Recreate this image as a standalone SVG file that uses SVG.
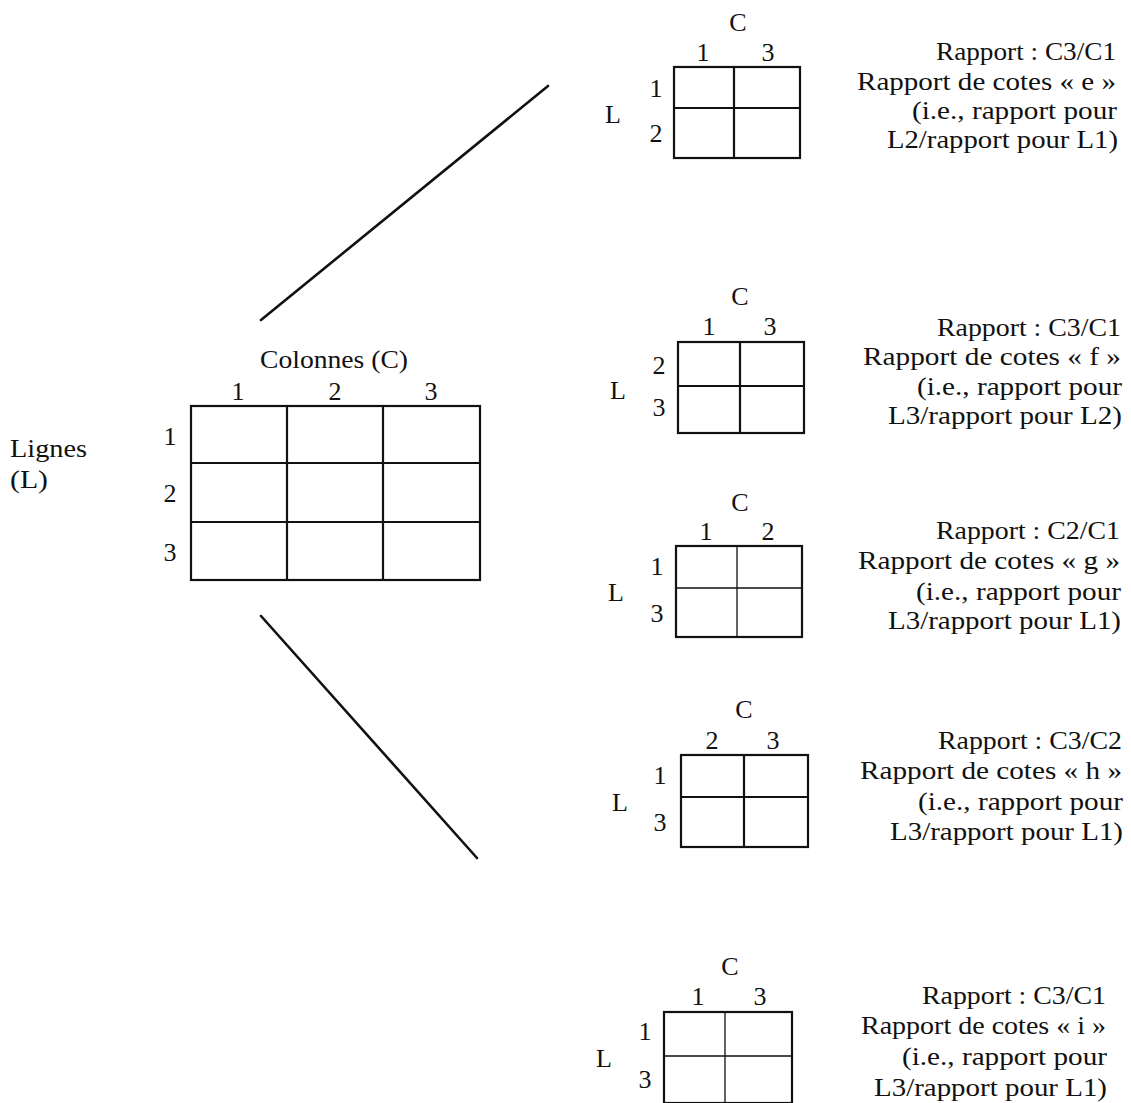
<svg xmlns="http://www.w3.org/2000/svg" width="1131" height="1103" viewBox="0 0 1131 1103">
  <style>
    text { font-family: "Liberation Serif", "Times New Roman", serif; font-size: 26px; fill: #111; }
    .c { text-anchor: middle; }
    .e { text-anchor: end; }
    .grid { fill: none; stroke: #111; stroke-width: 2.2; }
    .thin { fill: none; stroke: #111; stroke-width: 1.3; }
    .link { stroke: #111; stroke-width: 2.6; stroke-linecap: round; }
  </style>
  <rect width="1131" height="1103" fill="#fff"/>

  <!-- full 3x3 table -->
  <g id="main-table">
    <text x="10" y="457" textLength="77" lengthAdjust="spacingAndGlyphs">Lignes</text>
    <text x="10" y="488" textLength="38" lengthAdjust="spacingAndGlyphs">(L)</text>
    <text class="c" x="334" y="368" textLength="148" lengthAdjust="spacingAndGlyphs">Colonnes (C)</text>
    <text class="c" x="238" y="400">1</text>
    <text class="c" x="335" y="400">2</text>
    <text class="c" x="431" y="400">3</text>
    <text class="c" x="170" y="445">1</text>
    <text class="c" x="170" y="502">2</text>
    <text class="c" x="170" y="561">3</text>
    <rect class="grid" x="191" y="406" width="289" height="174"/>
    <path class="grid" d="M287 406V580M383 406V580M191 463H480M191 522H480"/>
  </g>

  <!-- branches -->
  <g id="connectors">
    <line class="link" x1="261" y1="320" x2="548" y2="86"/>
    <line class="link" x1="261" y1="616" x2="477" y2="858"/>
  </g>

  <!-- sub-table e : L1/L2, C1/C3 -->
  <g id="table-e">
    <text class="c" x="738" y="31">C</text>
    <text class="c" x="703" y="61">1</text>
    <text class="c" x="768" y="61">3</text>
    <text class="c" x="613" y="123">L</text>
    <text class="c" x="656" y="97">1</text>
    <text class="c" x="656" y="142">2</text>
    <rect class="grid" x="674" y="67" width="126" height="91"/>
    <path class="grid" d="M734 67V158M674 108H800"/>
    <text class="e" x="1116" y="60" textLength="180" lengthAdjust="spacingAndGlyphs">Rapport : C3/C1</text>
    <text class="e" x="1116" y="90" textLength="259" lengthAdjust="spacingAndGlyphs">Rapport de cotes « e »</text>
    <text class="e" x="1117" y="119" textLength="205" lengthAdjust="spacingAndGlyphs">(i.e., rapport pour</text>
    <text class="e" x="1118" y="148" textLength="231" lengthAdjust="spacingAndGlyphs">L2/rapport pour L1)</text>
  </g>

  <!-- sub-table f : L2/L3, C1/C3 -->
  <g id="table-f">
    <text class="c" x="740" y="305">C</text>
    <text class="c" x="709" y="335">1</text>
    <text class="c" x="770" y="335">3</text>
    <text class="c" x="618" y="399">L</text>
    <text class="c" x="659" y="374">2</text>
    <text class="c" x="659" y="416">3</text>
    <rect class="grid" x="678" y="342" width="126" height="91"/>
    <path class="grid" d="M740 342V433M678 386H804"/>
    <text class="e" x="1121" y="336" textLength="184" lengthAdjust="spacingAndGlyphs">Rapport : C3/C1</text>
    <text class="e" x="1121" y="365" textLength="258" lengthAdjust="spacingAndGlyphs">Rapport de cotes « f »</text>
    <text class="e" x="1122" y="395" textLength="205" lengthAdjust="spacingAndGlyphs">(i.e., rapport pour</text>
    <text class="e" x="1122" y="424" textLength="234" lengthAdjust="spacingAndGlyphs">L3/rapport pour L2)</text>
  </g>

  <!-- sub-table g : L1/L3, C1/C2 -->
  <g id="table-g">
    <text class="c" x="740" y="511">C</text>
    <text class="c" x="706" y="540">1</text>
    <text class="c" x="768" y="540">2</text>
    <text class="c" x="616" y="601">L</text>
    <text class="c" x="657" y="575">1</text>
    <text class="c" x="657" y="622">3</text>
    <rect class="grid" x="676" y="546" width="126" height="91"/>
    <path class="thin" d="M737 546V637M676 588H802"/>
    <text class="e" x="1120" y="539" textLength="184" lengthAdjust="spacingAndGlyphs">Rapport : C2/C1</text>
    <text class="e" x="1120" y="569" textLength="262" lengthAdjust="spacingAndGlyphs">Rapport de cotes « g »</text>
    <text class="e" x="1121" y="600" textLength="205" lengthAdjust="spacingAndGlyphs">(i.e., rapport pour</text>
    <text class="e" x="1121" y="629" textLength="233" lengthAdjust="spacingAndGlyphs">L3/rapport pour L1)</text>
  </g>

  <!-- sub-table h : L1/L3, C2/C3 -->
  <g id="table-h">
    <text class="c" x="744" y="718">C</text>
    <text class="c" x="712" y="749">2</text>
    <text class="c" x="773" y="749">3</text>
    <text class="c" x="620" y="811">L</text>
    <text class="c" x="660" y="784">1</text>
    <text class="c" x="660" y="831">3</text>
    <rect class="grid" x="681" y="755" width="127" height="92"/>
    <path class="grid" d="M744 755V847M681 797H808"/>
    <text class="e" x="1122" y="749" textLength="184" lengthAdjust="spacingAndGlyphs">Rapport : C3/C2</text>
    <text class="e" x="1122" y="779" textLength="262" lengthAdjust="spacingAndGlyphs">Rapport de cotes « h »</text>
    <text class="e" x="1123" y="810" textLength="205" lengthAdjust="spacingAndGlyphs">(i.e., rapport pour</text>
    <text class="e" x="1123" y="840" textLength="233" lengthAdjust="spacingAndGlyphs">L3/rapport pour L1)</text>
  </g>

  <!-- sub-table i : L1/L3, C1/C3 -->
  <g id="table-i">
    <text class="c" x="730" y="975">C</text>
    <text class="c" x="698" y="1005">1</text>
    <text class="c" x="760" y="1005">3</text>
    <text class="c" x="604" y="1067">L</text>
    <text class="c" x="645" y="1040">1</text>
    <text class="c" x="645" y="1088">3</text>
    <rect class="grid" x="664" y="1012" width="128" height="91"/>
    <path class="thin" d="M725 1012V1103M664 1056H792"/>
    <text class="e" x="1106" y="1004" textLength="184" lengthAdjust="spacingAndGlyphs">Rapport : C3/C1</text>
    <text class="e" x="1106" y="1034" textLength="245" lengthAdjust="spacingAndGlyphs">Rapport de cotes « i »</text>
    <text class="e" x="1107" y="1065" textLength="205" lengthAdjust="spacingAndGlyphs">(i.e., rapport pour</text>
    <text class="e" x="1107" y="1096" textLength="233" lengthAdjust="spacingAndGlyphs">L3/rapport pour L1)</text>
  </g>
</svg>
